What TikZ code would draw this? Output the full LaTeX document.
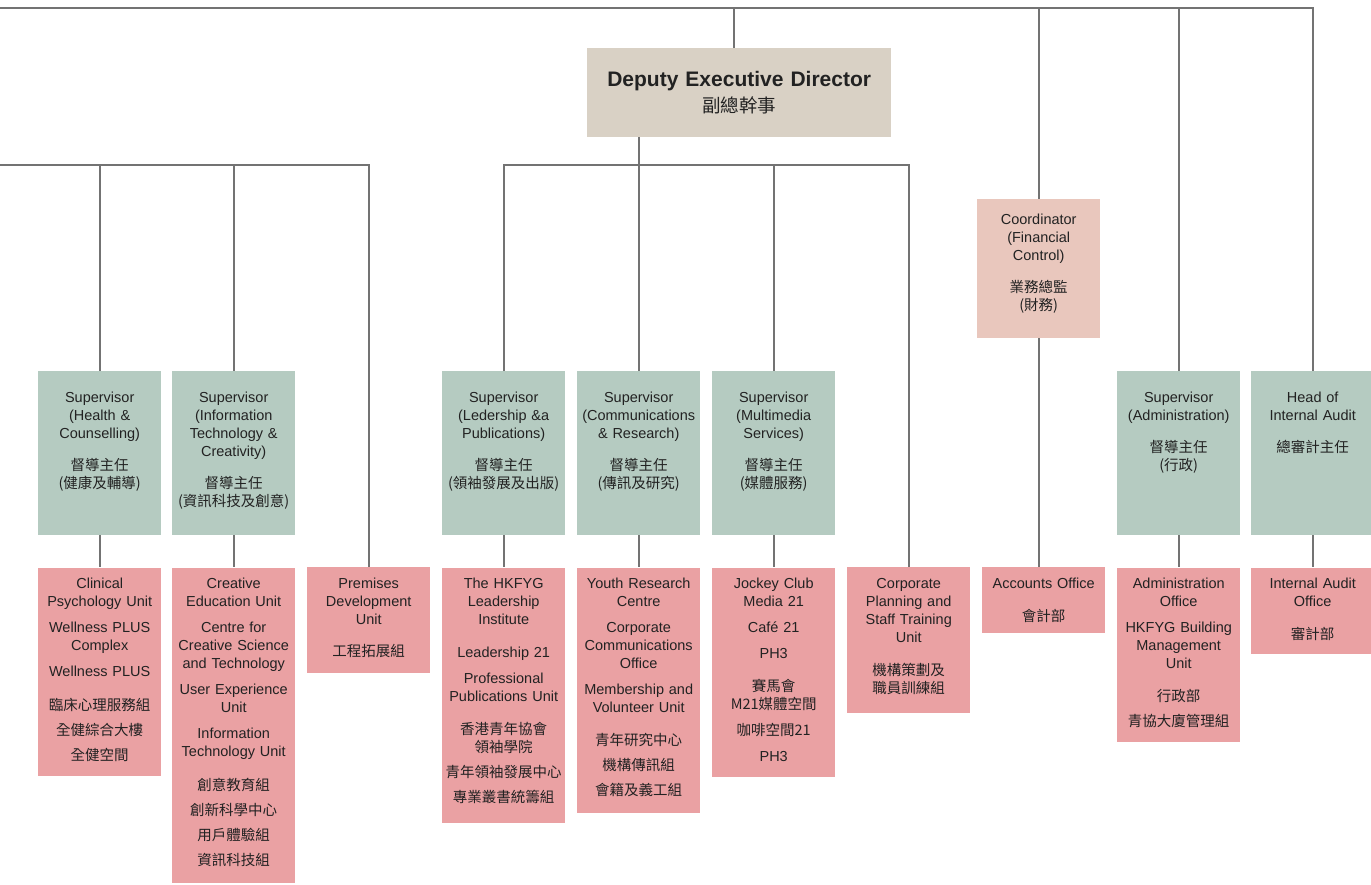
\documentclass[tikz,border=0pt]{standalone}
\usepackage{fontspec}
\setmainfont{Liberation Sans}
\newfontfamily\cjk{Noto Sans CJK TC}
\usepackage{tikz}
\usetikzlibrary{positioning}

\definecolor{dedfill}{HTML}{D9D1C5}
\definecolor{supfill}{HTML}{B5CBC1}
\definecolor{unitfill}{HTML}{EAA1A3}
\definecolor{coordfill}{HTML}{E9C7BD}
\definecolor{linegray}{HTML}{737373}
\definecolor{txt}{HTML}{222222}

\begin{document}
\begin{tikzpicture}[x=1pt, y=-1pt,
    every node/.style={font=\fontsize{14.5}{18}\selectfont, text=txt},
    box/.style={anchor=north west, inner xsep=2pt, inner ysep=0pt, text width=119pt, align=center},
    head/.style={box, fill=dedfill, text width=300pt, font=\bfseries\fontsize{21}{26}\selectfont, text height=38pt, text depth=51pt},
    sup/.style={box, fill=supfill, text height=31.5pt, text depth=132.5pt},
    coordbox/.style={box, fill=coordfill, text height=25.3pt, text depth=113.4pt},
    unit/.style={box, fill=unitfill, text height=21pt, text depth=#1},
    conn/.style={draw=linegray, line width=2pt},
]
\useasboundingbox (0,0) rectangle (1371,884);

% Top level
\node[head] (ded) at (587,48) {Deputy Executive Director\\{\cjk\mdseries\fontsize{18.5}{26}\selectfont 副總幹事}};
\node[coordbox] (coord) at (977,199) {Coordinator\\(Financial\\Control)\\[14pt]{\cjk 業務總監\\(財務)}};

% Supervisors
\node[sup] (health) at (38,371) {Supervisor\\(Health \&\\Counselling)\\[14pt]{\cjk 督導主任\\(健康及輔導)}};
\node[sup] (it) at (172,371) {Supervisor\\(Information\\Technology \&\\Creativity)\\[14pt]{\cjk 督導主任\\(資訊科技及創意)}};
\node[sup] (lead) at (442,371) {Supervisor\\(Ledership \&a\\Publications)\\[14pt]{\cjk 督導主任\\(領袖發展及出版)}};
\node[sup] (comm) at (577,371) {Supervisor\\(Communications\\\& Research)\\[14pt]{\cjk 督導主任\\(傳訊及研究)}};
\node[sup] (mm) at (712,371) {Supervisor\\(Multimedia\\Services)\\[14pt]{\cjk 督導主任\\(媒體服務)}};
\node[sup] (admin) at (1117,371) {Supervisor\\(Administration)\\[14pt]{\cjk 督導主任\\(行政)}};
\node[sup] (audit) at (1251,371) {Head of\\Internal Audit\\[14pt]{\cjk 總審計主任}};

% Units
\node[unit=187pt, below=32pt of health] (clin) {Clinical\\Psychology Unit\\[8pt]Wellness PLUS\\Complex\\[8pt]Wellness PLUS\\[16pt]{\cjk 臨床心理服務組\\[7pt]全健綜合大樓\\[7pt]全健空間}};
\node[unit=294pt, below=32pt of it] (crea) {Creative\\Education Unit\\[8pt]Centre for\\Creative Science\\and Technology\\[8pt]User Experience\\Unit\\[8pt]Information\\Technology Unit\\[16pt]{\cjk 創意教育組\\[7pt]創新科學中心\\[7pt]用戶體驗組\\[7pt]資訊科技組}};
\node[unit=85pt] (prem) at (307,567) {Premises\\Development\\Unit\\[14pt]{\cjk 工程拓展組}};
\node[unit=234pt, below=32pt of lead] (hkli) {The HKFYG\\Leadership\\Institute\\[15pt]Leadership 21\\[8pt]Professional\\Publications Unit\\[15pt]{\cjk 香港青年協會\\領袖學院\\[7pt]青年領袖發展中心\\[7pt]專業叢書統籌組}};
\node[unit=224pt, below=32pt of comm] (yrc) {Youth Research\\Centre\\[8pt]Corporate\\Communications\\Office\\[8pt]Membership and\\Volunteer Unit\\[15pt]{\cjk 青年研究中心\\[7pt]機構傳訊組\\[7pt]會籍及義工組}};
\node[unit=188pt, below=32pt of mm] (jcm) {Jockey Club\\Media 21\\[8pt]Café 21\\[8pt]PH3\\[15pt]{\cjk 賽馬會\\M21媒體空間\\[8pt]咖啡空間21}\\[8pt]PH3};
\node[unit=125pt] (corp) at (847,567) {Corporate\\Planning and\\Staff Training\\Unit\\[15pt]{\cjk 機構策劃及\\職員訓練組}};
\node[unit=45pt] (acct) at (982,567) {Accounts Office\\[15pt]{\cjk 會計部}};
\node[unit=153pt, below=32pt of admin] (adm) {Administration\\Office\\[8pt]HKFYG Building\\Management\\Unit\\[15pt]{\cjk 行政部\\[7pt]青協大廈管理組}};
\node[unit=65pt, below=32pt of audit] (iao) {Internal Audit\\Office\\[15pt]{\cjk 審計部}};

% Connectors
\coordinate (topbus) at (0,8);
\coordinate (leftbus) at (0,165);
\coordinate (midbus) at (comm.north |- leftbus);
\draw[conn] (topbus) -| (audit.north);
\draw[conn] ([xshift=-5pt]ded.north) -- ([xshift=-5pt]ded.north |- topbus);
\draw[conn] (coord.north |- topbus) -- (coord.north);
\draw[conn] (admin.north |- topbus) -- (admin.north);
\draw[conn] (coord.south) -- (coord.south |- acct.north);
\draw[conn] (leftbus) -| (prem.north);
\draw[conn] (health.north |- leftbus) -- (health.north);
\draw[conn] (it.north |- leftbus) -- (it.north);
\draw[conn] (comm.north |- ded.south) -- (comm.north);
\draw[conn] (lead.north) |- (midbus) -| (corp.north);
\draw[conn] (mm.north |- midbus) -- (mm.north);
\foreach \s/\u in {health/clin, it/crea, lead/hkli, comm/yrc, mm/jcm, admin/adm, audit/iao}
  \draw[conn] (\s.south) -- (\u.north);

\end{tikzpicture}
\end{document}
